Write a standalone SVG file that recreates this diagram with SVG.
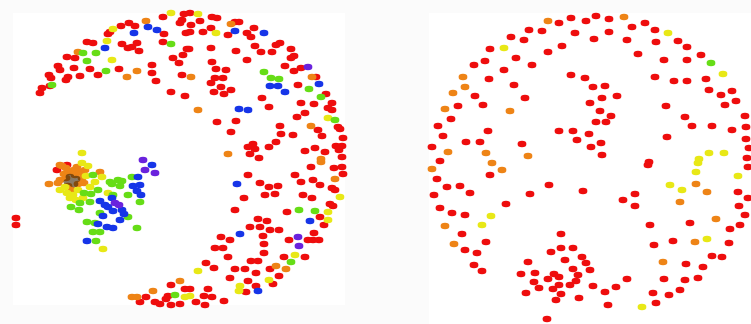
<svg xmlns="http://www.w3.org/2000/svg" xmlns:xlink="http://www.w3.org/1999/xlink" width="751" height="324" viewBox="0 0 751 324">
<style>
.r{fill:#ee1111}.o{fill:#ee8418}.y{fill:#e8e818}.g{fill:#66dd18}.b{fill:#1634e8}.p{fill:#6a22dd}.k{fill:#3a2206;opacity:.6}
.dots{filter:url(#soft)}
</style>
<defs>
<ellipse id="d" cx="0" cy="0" rx="4.4" ry="3.2"/>
<filter id="soft" x="-5%" y="-5%" width="110%" height="110%"><feGaussianBlur stdDeviation="0.45"/></filter>
</defs>
<rect width="751" height="324" fill="#fbfbfb"/>
<rect x="13" y="13" width="332" height="292" fill="#ffffff"/>
<rect x="429" y="13" width="322" height="311" fill="#ffffff"/>
<g id="left-network" class="dots">
<g class="r">
<use href="#d" x="163" y="17"/><use href="#d" x="184" y="14"/><use href="#d" x="182" y="20"/><use href="#d" x="180" y="23"/><use href="#d" x="164" y="34"/><use href="#d" x="129" y="23"/><use href="#d" x="135" y="26"/><use href="#d" x="121" y="26"/><use href="#d" x="110" y="32"/><use href="#d" x="108" y="34"/><use href="#d" x="186" y="33"/><use href="#d" x="87" y="42"/><use href="#d" x="93" y="43"/><use href="#d" x="122" y="44"/><use href="#d" x="128" y="48"/><use href="#d" x="132" y="47"/><use href="#d" x="137" y="43"/><use href="#d" x="139" y="51"/><use href="#d" x="163" y="42"/><use href="#d" x="67" y="57"/><use href="#d" x="75" y="58"/><use href="#d" x="173" y="58"/><use href="#d" x="183" y="55"/><use href="#d" x="187" y="49"/><use href="#d" x="179" y="63"/><use href="#d" x="58" y="66"/><use href="#d" x="60" y="70"/><use href="#d" x="74" y="68"/><use href="#d" x="90" y="69"/><use href="#d" x="119" y="69"/><use href="#d" x="152" y="65"/><use href="#d" x="152" y="73"/><use href="#d" x="156" y="81"/><use href="#d" x="182" y="75"/><use href="#d" x="49" y="75"/><use href="#d" x="51" y="78"/><use href="#d" x="68" y="77"/><use href="#d" x="66" y="80"/><use href="#d" x="80" y="76"/><use href="#d" x="98" y="75"/><use href="#d" x="50" y="86"/><use href="#d" x="42" y="88"/><use href="#d" x="40" y="93"/><use href="#d" x="171" y="92"/><use href="#d" x="185" y="96"/>
<use href="#d" x="190" y="13"/><use href="#d" x="212" y="17"/><use href="#d" x="217" y="18"/><use href="#d" x="200" y="21"/><use href="#d" x="191" y="25"/><use href="#d" x="235" y="22"/><use href="#d" x="239" y="22"/><use href="#d" x="211" y="28"/><use href="#d" x="203" y="32"/><use href="#d" x="190" y="32"/><use href="#d" x="228" y="35"/><use href="#d" x="247" y="33"/><use href="#d" x="251" y="37"/><use href="#d" x="254" y="28"/><use href="#d" x="255" y="46"/><use href="#d" x="276" y="45"/><use href="#d" x="280" y="43"/><use href="#d" x="261" y="52"/><use href="#d" x="272" y="52"/><use href="#d" x="291" y="49"/><use href="#d" x="211" y="48"/><use href="#d" x="236" y="51"/><use href="#d" x="189" y="49"/><use href="#d" x="294" y="56"/><use href="#d" x="291" y="58"/><use href="#d" x="247" y="60"/><use href="#d" x="212" y="62"/><use href="#d" x="285" y="66"/><use href="#d" x="294" y="71"/><use href="#d" x="301" y="68"/><use href="#d" x="216" y="69"/><use href="#d" x="226" y="70"/><use href="#d" x="215" y="78"/><use href="#d" x="223" y="78"/><use href="#d" x="211" y="83"/><use href="#d" x="316" y="77"/><use href="#d" x="298" y="85"/><use href="#d" x="221" y="87"/><use href="#d" x="231" y="90"/><use href="#d" x="214" y="92"/><use href="#d" x="224" y="94"/><use href="#d" x="326" y="94"/><use href="#d" x="262" y="98"/><use href="#d" x="301" y="103"/><use href="#d" x="314" y="104"/><use href="#d" x="332" y="103"/><use href="#d" x="328" y="108"/><use href="#d" x="332" y="110"/><use href="#d" x="269" y="107"/><use href="#d" x="305" y="113"/><use href="#d" x="297" y="117"/><use href="#d" x="217" y="122"/><use href="#d" x="236" y="121"/><use href="#d" x="338" y="127"/><use href="#d" x="340" y="129"/><use href="#d" x="280" y="126"/><use href="#d" x="318" y="130"/><use href="#d" x="231" y="132"/><use href="#d" x="281" y="134"/><use href="#d" x="293" y="135"/><use href="#d" x="322" y="136"/><use href="#d" x="343" y="138"/><use href="#d" x="276" y="142"/><use href="#d" x="269" y="147"/><use href="#d" x="248" y="147"/><use href="#d" x="253" y="144"/><use href="#d" x="255" y="149"/><use href="#d" x="315" y="148"/><use href="#d" x="305" y="151"/><use href="#d" x="325" y="152"/><use href="#d" x="336" y="146"/><use href="#d" x="342" y="146"/><use href="#d" x="339" y="150"/><use href="#d" x="250" y="154"/><use href="#d" x="259" y="158"/><use href="#d" x="342" y="157"/>
<use href="#d" x="67" y="165"/><use href="#d" x="57" y="170"/><use href="#d" x="16" y="218"/><use href="#d" x="16" y="225"/><use href="#d" x="171" y="285"/><use href="#d" x="185" y="289"/><use href="#d" x="146" y="297"/><use href="#d" x="140" y="302"/><use href="#d" x="155" y="302"/><use href="#d" x="166" y="299"/><use href="#d" x="168" y="296"/><use href="#d" x="160" y="304"/><use href="#d" x="171" y="305"/><use href="#d" x="180" y="304"/>
<use href="#d" x="311" y="167"/><use href="#d" x="334" y="168"/><use href="#d" x="342" y="167"/><use href="#d" x="343" y="174"/><use href="#d" x="248" y="175"/><use href="#d" x="295" y="175"/><use href="#d" x="301" y="182"/><use href="#d" x="313" y="180"/><use href="#d" x="320" y="185"/><use href="#d" x="260" y="183"/><use href="#d" x="269" y="187"/><use href="#d" x="278" y="186"/><use href="#d" x="265" y="195"/><use href="#d" x="275" y="194"/><use href="#d" x="244" y="198"/><use href="#d" x="303" y="195"/><use href="#d" x="312" y="198"/><use href="#d" x="332" y="188"/><use href="#d" x="335" y="190"/><use href="#d" x="330" y="204"/><use href="#d" x="333" y="206"/><use href="#d" x="235" y="210"/><use href="#d" x="287" y="212"/><use href="#d" x="320" y="217"/><use href="#d" x="324" y="225"/><use href="#d" x="258" y="219"/><use href="#d" x="267" y="221"/><use href="#d" x="250" y="227"/><use href="#d" x="260" y="227"/><use href="#d" x="270" y="230"/><use href="#d" x="279" y="230"/><use href="#d" x="314" y="233"/><use href="#d" x="263" y="236"/><use href="#d" x="221" y="237"/><use href="#d" x="230" y="240"/><use href="#d" x="289" y="240"/><use href="#d" x="308" y="240"/><use href="#d" x="313" y="240"/><use href="#d" x="319" y="240"/><use href="#d" x="264" y="244"/><use href="#d" x="215" y="248"/><use href="#d" x="223" y="248"/><use href="#d" x="264" y="253"/><use href="#d" x="228" y="257"/><use href="#d" x="284" y="257"/><use href="#d" x="305" y="257"/><use href="#d" x="206" y="263"/><use href="#d" x="251" y="261"/><use href="#d" x="258" y="261"/><use href="#d" x="214" y="268"/><use href="#d" x="235" y="269"/><use href="#d" x="245" y="269"/><use href="#d" x="270" y="269"/><use href="#d" x="256" y="273"/><use href="#d" x="230" y="278"/><use href="#d" x="279" y="276"/><use href="#d" x="248" y="281"/><use href="#d" x="273" y="284"/><use href="#d" x="256" y="286"/><use href="#d" x="208" y="289"/><use href="#d" x="190" y="289"/><use href="#d" x="246" y="292"/><use href="#d" x="204" y="296"/><use href="#d" x="212" y="297"/><use href="#d" x="196" y="302"/><use href="#d" x="205" y="305"/><use href="#d" x="224" y="301"/>
</g>
<g class="o">
<use href="#d" x="146" y="21"/><use href="#d" x="78" y="52"/><use href="#d" x="137" y="71"/><use href="#d" x="127" y="77"/><use href="#d" x="231" y="24"/><use href="#d" x="191" y="77"/><use href="#d" x="198" y="110"/><use href="#d" x="311" y="126"/><use href="#d" x="228" y="154"/><use href="#d" x="321" y="159"/><use href="#d" x="312" y="77"/>
<use href="#d" x="180" y="281"/><use href="#d" x="153" y="291"/><use href="#d" x="132" y="297"/><use href="#d" x="137" y="297"/><use href="#d" x="321" y="162"/><use href="#d" x="335" y="179"/><use href="#d" x="276" y="266"/><use href="#d" x="286" y="269"/>
<use href="#d" x="60" y="165"/><use href="#d" x="62" y="166"/><use href="#d" x="66" y="168"/><use href="#d" x="77" y="167"/><use href="#d" x="70" y="172"/><use href="#d" x="75" y="175"/><use href="#d" x="80" y="172"/><use href="#d" x="66" y="178"/><use href="#d" x="60" y="180"/><use href="#d" x="58" y="183"/><use href="#d" x="49" y="184"/><use href="#d" x="82" y="178"/><use href="#d" x="78" y="184"/><use href="#d" x="68" y="186"/><use href="#d" x="100" y="172"/><use href="#d" x="85" y="170"/><use href="#d" x="72" y="190"/><use href="#d" x="64" y="174"/><use href="#d" x="74" y="170"/><use href="#d" x="84" y="183"/>
</g>
<g class="k">
<use href="#d" x="72" y="180"/><use href="#d" x="74" y="184"/><use href="#d" x="70" y="177"/><use href="#d" x="76" y="179"/><use href="#d" x="68" y="182"/>
</g>
<g class="y">
<use href="#d" x="171" y="13"/><use href="#d" x="113" y="29"/><use href="#d" x="107" y="41"/><use href="#d" x="112" y="60"/><use href="#d" x="198" y="14"/><use href="#d" x="216" y="33"/><use href="#d" x="328" y="118"/>
<use href="#d" x="185" y="297"/><use href="#d" x="103" y="249"/><use href="#d" x="340" y="197"/><use href="#d" x="328" y="212"/><use href="#d" x="328" y="220"/><use href="#d" x="295" y="255"/><use href="#d" x="198" y="271"/><use href="#d" x="269" y="280"/><use href="#d" x="240" y="286"/><use href="#d" x="239" y="291"/><use href="#d" x="190" y="296"/>
<use href="#d" x="82" y="153"/><use href="#d" x="82" y="163"/><use href="#d" x="88" y="166"/><use href="#d" x="102" y="177"/><use href="#d" x="95" y="182"/><use href="#d" x="60" y="190"/><use href="#d" x="67" y="193"/><use href="#d" x="73" y="195"/><use href="#d" x="90" y="187"/><use href="#d" x="108" y="193"/><use href="#d" x="83" y="198"/><use href="#d" x="78" y="190"/><use href="#d" x="86" y="176"/><use href="#d" x="70" y="198"/><use href="#d" x="65" y="187"/><use href="#d" x="76" y="200"/>
</g>
<g class="g">
<use href="#d" x="171" y="44"/><use href="#d" x="83" y="53"/><use href="#d" x="96" y="53"/><use href="#d" x="87" y="61"/><use href="#d" x="106" y="71"/><use href="#d" x="52" y="85"/>
<use href="#d" x="264" y="72"/><use href="#d" x="271" y="78"/><use href="#d" x="279" y="79"/><use href="#d" x="309" y="89"/><use href="#d" x="321" y="97"/><use href="#d" x="335" y="120"/>
<use href="#d" x="175" y="295"/><use href="#d" x="299" y="210"/><use href="#d" x="315" y="211"/><use href="#d" x="291" y="262"/>
<use href="#d" x="93" y="175"/><use href="#d" x="110" y="182"/><use href="#d" x="118" y="180"/><use href="#d" x="122" y="181"/><use href="#d" x="132" y="177"/><use href="#d" x="112" y="184"/><use href="#d" x="98" y="190"/><use href="#d" x="84" y="193"/><use href="#d" x="80" y="203"/><use href="#d" x="90" y="202"/><use href="#d" x="71" y="207"/><use href="#d" x="79" y="210"/><use href="#d" x="91" y="194"/><use href="#d" x="113" y="195"/><use href="#d" x="128" y="195"/><use href="#d" x="140" y="202"/><use href="#d" x="100" y="213"/><use href="#d" x="128" y="217"/><use href="#d" x="87" y="222"/><use href="#d" x="95" y="223"/><use href="#d" x="137" y="228"/><use href="#d" x="93" y="232"/><use href="#d" x="100" y="232"/><use href="#d" x="96" y="241"/><use href="#d" x="120" y="186"/>
</g>
<g class="b">
<use href="#d" x="148" y="27"/><use href="#d" x="157" y="30"/><use href="#d" x="134" y="33"/><use href="#d" x="105" y="48"/><use href="#d" x="235" y="31"/><use href="#d" x="264" y="33"/><use href="#d" x="270" y="86"/><use href="#d" x="278" y="86"/><use href="#d" x="319" y="84"/><use href="#d" x="285" y="92"/><use href="#d" x="239" y="109"/><use href="#d" x="248" y="110"/>
<use href="#d" x="152" y="165"/><use href="#d" x="87" y="241"/><use href="#d" x="237" y="184"/><use href="#d" x="310" y="221"/><use href="#d" x="240" y="234"/><use href="#d" x="258" y="291"/>
<use href="#d" x="138" y="177"/><use href="#d" x="133" y="186"/><use href="#d" x="140" y="185"/><use href="#d" x="137" y="191"/><use href="#d" x="141" y="195"/><use href="#d" x="112" y="198"/><use href="#d" x="100" y="201"/><use href="#d" x="108" y="207"/><use href="#d" x="113" y="211"/><use href="#d" x="122" y="210"/><use href="#d" x="103" y="216"/><use href="#d" x="120" y="220"/><use href="#d" x="98" y="224"/><use href="#d" x="107" y="227"/><use href="#d" x="113" y="228"/><use href="#d" x="105" y="205"/><use href="#d" x="124" y="214"/>
</g>
<g class="p">
<use href="#d" x="143" y="160"/><use href="#d" x="308" y="67"/><use href="#d" x="145" y="170"/><use href="#d" x="155" y="173"/><use href="#d" x="298" y="237"/><use href="#d" x="299" y="246"/><use href="#d" x="115" y="203"/><use href="#d" x="119" y="205"/>
</g>
</g>
<g id="right-network" class="dots">
<g class="r">
<use href="#d" x="559" y="23"/><use href="#d" x="529" y="30"/><use href="#d" x="542" y="31"/><use href="#d" x="511" y="37"/><use href="#d" x="524" y="40"/><use href="#d" x="490" y="49"/><use href="#d" x="548" y="52"/><use href="#d" x="562" y="46"/><use href="#d" x="516" y="58"/><use href="#d" x="485" y="61"/><use href="#d" x="474" y="65"/><use href="#d" x="532" y="65"/><use href="#d" x="504" y="70"/><use href="#d" x="489" y="79"/><use href="#d" x="514" y="85"/><use href="#d" x="475" y="96"/><use href="#d" x="525" y="98"/><use href="#d" x="458" y="106"/><use href="#d" x="483" y="105"/><use href="#d" x="451" y="119"/><use href="#d" x="438" y="126"/><use href="#d" x="488" y="131"/><use href="#d" x="559" y="131"/><use href="#d" x="443" y="136"/><use href="#d" x="466" y="142"/><use href="#d" x="480" y="142"/><use href="#d" x="432" y="147"/><use href="#d" x="522" y="144"/><use href="#d" x="440" y="161"/>
<use href="#d" x="571" y="18"/><use href="#d" x="586" y="21"/><use href="#d" x="596" y="16"/><use href="#d" x="609" y="19"/><use href="#d" x="645" y="23"/><use href="#d" x="632" y="27"/><use href="#d" x="655" y="30"/><use href="#d" x="575" y="33"/><use href="#d" x="609" y="32"/><use href="#d" x="594" y="39"/><use href="#d" x="627" y="40"/><use href="#d" x="656" y="42"/><use href="#d" x="678" y="41"/><use href="#d" x="687" y="47"/><use href="#d" x="638" y="54"/><use href="#d" x="701" y="55"/><use href="#d" x="664" y="60"/><use href="#d" x="687" y="60"/><use href="#d" x="571" y="75"/><use href="#d" x="585" y="78"/><use href="#d" x="655" y="77"/><use href="#d" x="674" y="81"/><use href="#d" x="687" y="81"/><use href="#d" x="706" y="79"/><use href="#d" x="593" y="87"/><use href="#d" x="605" y="86"/><use href="#d" x="709" y="90"/><use href="#d" x="732" y="91"/><use href="#d" x="617" y="96"/><use href="#d" x="602" y="98"/><use href="#d" x="721" y="95"/><use href="#d" x="736" y="101"/><use href="#d" x="590" y="103"/><use href="#d" x="725" y="105"/><use href="#d" x="666" y="106"/><use href="#d" x="600" y="111"/><use href="#d" x="611" y="116"/><use href="#d" x="745" y="116"/><use href="#d" x="685" y="117"/><use href="#d" x="596" y="122"/><use href="#d" x="606" y="122"/><use href="#d" x="692" y="126"/><use href="#d" x="712" y="126"/><use href="#d" x="746" y="127"/><use href="#d" x="732" y="130"/><use href="#d" x="573" y="131"/><use href="#d" x="589" y="134"/><use href="#d" x="577" y="140"/><use href="#d" x="746" y="139"/><use href="#d" x="667" y="137"/><use href="#d" x="601" y="143"/><use href="#d" x="591" y="147"/><use href="#d" x="749" y="148"/><use href="#d" x="602" y="155"/><use href="#d" x="747" y="158"/><use href="#d" x="649" y="162"/>
<use href="#d" x="490" y="175"/><use href="#d" x="437" y="179"/><use href="#d" x="447" y="187"/><use href="#d" x="460" y="186"/><use href="#d" x="549" y="185"/><use href="#d" x="434" y="195"/><use href="#d" x="470" y="193"/><use href="#d" x="530" y="194"/><use href="#d" x="506" y="204"/><use href="#d" x="440" y="208"/><use href="#d" x="452" y="213"/><use href="#d" x="465" y="215"/><use href="#d" x="462" y="234"/><use href="#d" x="561" y="234"/><use href="#d" x="486" y="242"/><use href="#d" x="465" y="250"/><use href="#d" x="477" y="253"/><use href="#d" x="551" y="252"/><use href="#d" x="561" y="248"/><use href="#d" x="528" y="262"/><use href="#d" x="474" y="265"/><use href="#d" x="482" y="271"/><use href="#d" x="521" y="274"/><use href="#d" x="535" y="273"/><use href="#d" x="548" y="279"/><use href="#d" x="554" y="274"/><use href="#d" x="559" y="277"/><use href="#d" x="534" y="282"/><use href="#d" x="539" y="288"/><use href="#d" x="553" y="289"/><use href="#d" x="559" y="285"/><use href="#d" x="561" y="294"/><use href="#d" x="526" y="293"/><use href="#d" x="556" y="300"/><use href="#d" x="547" y="319"/>
<use href="#d" x="648" y="165"/><use href="#d" x="748" y="167"/><use href="#d" x="738" y="192"/><use href="#d" x="748" y="198"/><use href="#d" x="583" y="191"/><use href="#d" x="623" y="200"/><use href="#d" x="635" y="194"/><use href="#d" x="635" y="206"/><use href="#d" x="739" y="206"/><use href="#d" x="745" y="215"/><use href="#d" x="650" y="225"/><use href="#d" x="690" y="223"/><use href="#d" x="740" y="225"/><use href="#d" x="730" y="229"/><use href="#d" x="673" y="241"/><use href="#d" x="654" y="245"/><use href="#d" x="729" y="243"/><use href="#d" x="573" y="248"/><use href="#d" x="712" y="256"/><use href="#d" x="722" y="257"/><use href="#d" x="582" y="257"/><use href="#d" x="565" y="260"/><use href="#d" x="586" y="263"/><use href="#d" x="686" y="264"/><use href="#d" x="703" y="267"/><use href="#d" x="590" y="270"/><use href="#d" x="573" y="269"/><use href="#d" x="578" y="275"/><use href="#d" x="576" y="281"/><use href="#d" x="627" y="279"/><use href="#d" x="664" y="279"/><use href="#d" x="685" y="280"/><use href="#d" x="698" y="278"/><use href="#d" x="570" y="285"/><use href="#d" x="593" y="286"/><use href="#d" x="616" y="287"/><use href="#d" x="680" y="290"/><use href="#d" x="605" y="292"/><use href="#d" x="653" y="293"/><use href="#d" x="669" y="295"/><use href="#d" x="579" y="298"/><use href="#d" x="656" y="303"/><use href="#d" x="608" y="305"/>
</g>
<g class="o">
<use href="#d" x="548" y="21"/><use href="#d" x="463" y="77"/><use href="#d" x="465" y="87"/><use href="#d" x="453" y="93"/><use href="#d" x="445" y="109"/><use href="#d" x="510" y="111"/><use href="#d" x="448" y="152"/><use href="#d" x="486" y="153"/><use href="#d" x="528" y="156"/><use href="#d" x="492" y="163"/><use href="#d" x="624" y="17"/>
<use href="#d" x="432" y="169"/><use href="#d" x="502" y="170"/><use href="#d" x="445" y="226"/><use href="#d" x="454" y="244"/><use href="#d" x="696" y="184"/><use href="#d" x="707" y="192"/><use href="#d" x="680" y="202"/><use href="#d" x="716" y="219"/><use href="#d" x="695" y="242"/><use href="#d" x="663" y="262"/>
</g>
<g class="y">
<use href="#d" x="504" y="48"/><use href="#d" x="668" y="33"/><use href="#d" x="723" y="74"/><use href="#d" x="709" y="153"/><use href="#d" x="724" y="153"/><use href="#d" x="699" y="159"/>
<use href="#d" x="491" y="216"/><use href="#d" x="482" y="225"/><use href="#d" x="698" y="163"/><use href="#d" x="696" y="172"/><use href="#d" x="738" y="176"/><use href="#d" x="670" y="185"/><use href="#d" x="682" y="190"/><use href="#d" x="707" y="239"/><use href="#d" x="642" y="307"/>
</g>
<g class="g">
<use href="#d" x="711" y="63"/>
</g>
</g>
</svg>
